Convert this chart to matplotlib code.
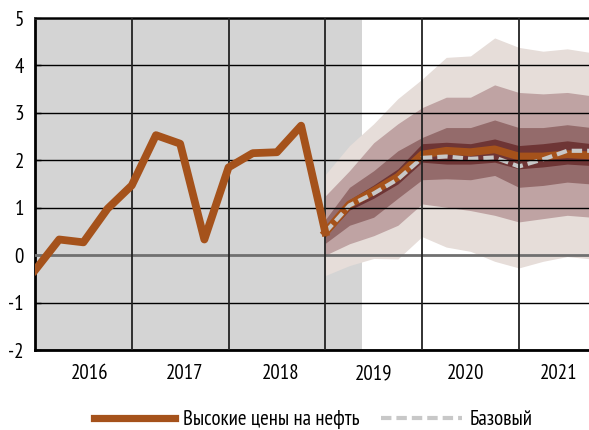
import matplotlib
matplotlib.use('Agg')
import matplotlib.pyplot as plt
from matplotlib.lines import Line2D

plt.rcParams['font.family'] = ['PT Sans Narrow', 'DejaVu Sans']

# ---- data ----
hist_x = list(range(0, 13))
hist = [-0.32, 0.33, 0.27, 0.98, 1.47, 2.53, 2.35, 0.33, 1.85, 2.15, 2.17, 2.73, 0.48]

fc_x = list(range(12, 24))
high_oil = [0.48, 1.07, 1.35, 1.65, 2.12, 2.20, 2.17, 2.23, 2.08, 2.08, 2.13, 2.10]
base = [0.48, 1.05, 1.30, 1.60, 2.05, 2.08, 2.03, 2.06, 1.87, 2.02, 2.20, 2.20]

outer_top = [1.70, 2.31, 2.77, 3.30, 3.71, 4.17, 4.20, 4.58, 4.38, 4.30, 4.35, 4.27]
second_top = [1.25, 1.78, 2.37, 2.77, 3.11, 3.33, 3.33, 3.59, 3.43, 3.40, 3.43, 3.36]
third_top = [0.75, 1.43, 1.78, 2.20, 2.48, 2.69, 2.69, 2.85, 2.69, 2.69, 2.75, 2.69]
dark_top = [0.55, 1.17, 1.48, 1.82, 2.35, 2.38, 2.35, 2.45, 2.31, 2.35, 2.41, 2.35]
dark_bot = [0.40, 0.95, 1.20, 1.50, 1.96, 1.92, 1.92, 1.96, 1.82, 1.86, 1.92, 1.89]
third_bot = [0.25, 0.63, 0.80, 1.20, 1.59, 1.61, 1.59, 1.68, 1.43, 1.47, 1.54, 1.50]
second_bot = [0.00, 0.24, 0.41, 0.63, 1.08, 1.01, 0.94, 0.84, 0.70, 0.77, 0.84, 0.80]
outer_bot = [-0.43, -0.22, -0.07, -0.08, 0.39, 0.17, 0.08, -0.13, -0.27, -0.13, -0.03, -0.08]

years = ['2016', '2017', '2018', '2019', '2020', '2021']
year_label_pos = [2.25, 6.2, 10.15, 14.0, 17.8, 21.65]
year_bounds = [4, 8, 12, 16, 20]
yticks = [-2, -1, 0, 1, 2, 3, 4, 5]

BROWN = '#a5521b'
DASH = '#c8c8c8'
FS = 15

fig = plt.figure(figsize=(5.89, 4.30), dpi=100)
ax = fig.add_axes([35 / 589, 80 / 430, 554 / 589, 332 / 430])
ax.set_xlim(0, 22.9)
ax.set_ylim(-2, 5)

ax.axvspan(0, 13.5, color='#d4d4d4', zorder=0, lw=0)

ax.fill_between(fc_x, outer_bot, outer_top, color='#e6ddd9', lw=0, zorder=1)
ax.fill_between(fc_x, second_bot, second_top, color='#bfa3a3', lw=0, zorder=1.1)
ax.fill_between(fc_x, third_bot, third_top, color='#946b6b', lw=0, zorder=1.2)
ax.fill_between(fc_x, dark_bot, dark_top, color='#6e3535', lw=0, zorder=1.3)

ax.plot(fc_x, high_oil, color=BROWN, lw=5.6, zorder=2)
ax.plot(fc_x, base, color=DASH, lw=3, dashes=(2.5, 1.2), zorder=2.5)

for y in yticks:
    if y == 0:
        ax.axhline(y, color='#707070', lw=2, zorder=3)
    else:
        ax.axhline(y, color='black', lw=1, zorder=3)
for xb in year_bounds:
    ax.axvline(xb, color='#222222', lw=1.3, zorder=3)

ax.plot(hist_x, hist, color=BROWN, lw=5.6, zorder=4)

for s in ['left', 'bottom']:
    ax.spines[s].set_linewidth(2)
    ax.spines[s].set_color('black')
ax.spines['top'].set_linewidth(2)
ax.spines['top'].set_color('#333333')
ax.spines['right'].set_visible(False)

ax.set_yticks(yticks)
ax.set_yticklabels([str(v) for v in yticks])
ax.tick_params(axis='y', direction='in', length=4, width=1, pad=8, labelsize=FS)
ax.set_xticks(year_label_pos)
ax.set_xticklabels(years)
ax.tick_params(axis='x', length=0, pad=10, labelsize=FS)

handles = [Line2D([], [], color=BROWN, lw=5.2),
           Line2D([], [], color=DASH, lw=3, dashes=(2.5, 1.2))]
fig.legend(handles, ['Высокие цены на нефть', 'Базовый'], loc='center',
           bbox_to_anchor=(0.532, 0.024), ncol=2, frameon=False,
           handlelength=3.9, handletextpad=0.4, columnspacing=1.0, fontsize=FS)

fig.savefig('out.png', dpi=100)
